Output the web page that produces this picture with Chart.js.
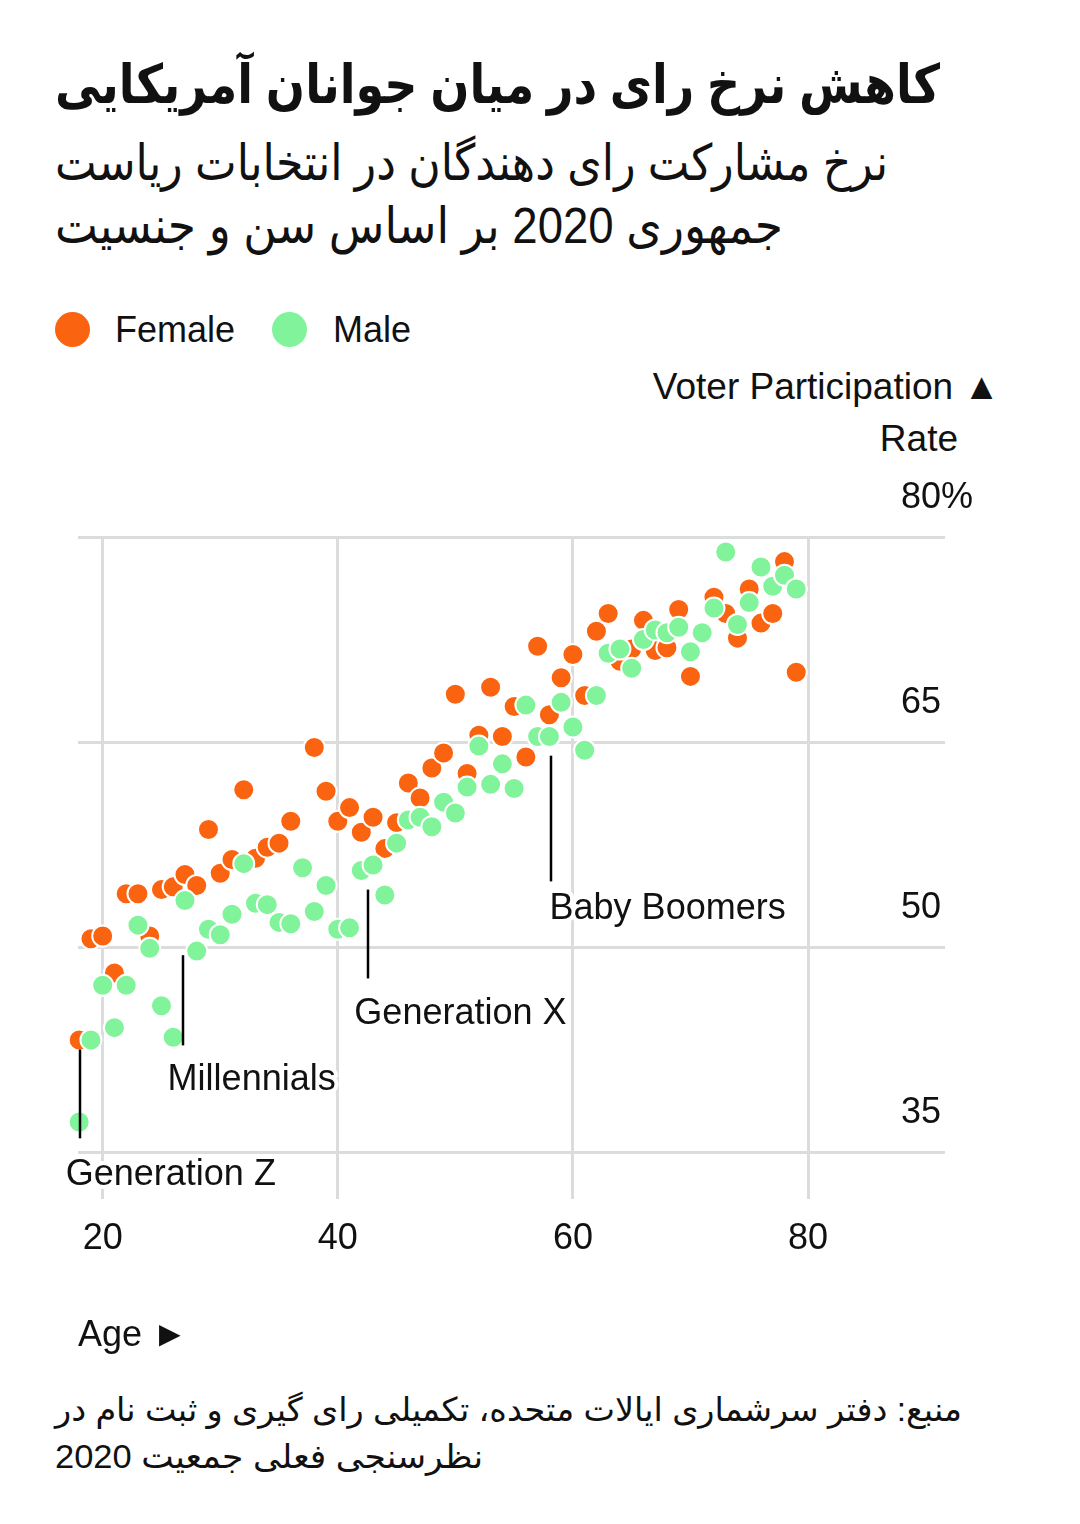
<!DOCTYPE html>
<html><head><meta charset="utf-8">
<script src="https://cdn.jsdelivr.net/npm/chart.js@4.4.1/dist/chart.umd.min.js"></script>
<style>
html,body{margin:0;padding:0;background:#fff;width:1080px;height:1524px;overflow:hidden}
body{position:relative;font-family:"Liberation Sans",Arial,"DejaVu Sans",sans-serif;color:#111}
.abs{position:absolute;white-space:nowrap;line-height:1}
.fa{direction:rtl;font-family:"Liberation Sans","DejaVu Sans",sans-serif;display:inline-block;transform-origin:0 50%}
.lat{font-size:36px}
.dot{position:absolute;width:35px;height:35px;border-radius:50%}
#chart{position:absolute;left:0;top:460px}
</style></head><body>
<div id="t0" class="abs fa" style="left:55px;top:57px;font-size:54px;font-weight:bold">کاهش نرخ رای در میان جوانان آمریکایی</div>
<div id="t1" class="abs fa" style="left:55px;top:138px;font-size:50px">نرخ مشارکت رای دهندگان در انتخابات ریاست</div>
<div id="t2" class="abs fa" style="left:55px;top:201px;font-size:50px">جمهوری 2020 بر اساس سن و جنسیت</div>

<div class="dot" id="dotF" style="left:55px;top:312px"></div>
<div class="abs lat" style="left:115px;top:312px">Female</div>
<div class="dot" id="dotM" style="left:272px;top:312px"></div>
<div class="abs lat" style="left:333px;top:312px">Male</div>

<div class="abs" style="right:80px;top:368px;font-size:37px">Voter Participation ▲</div>
<div class="abs" style="right:122px;top:420px;font-size:37px">Rate</div>

<canvas id="chart" width="1080" height="910"></canvas>

<div id="s1" class="abs fa" style="left:55px;top:1393px;font-size:33px">منبع: دفتر سرشماری ایالات متحده، تکمیلی رای گیری و ثبت نام در</div>
<div id="s2" class="abs fa" style="left:55px;top:1440px;font-size:33px">نظرسنجی فعلی جمعیت 2020</div>

<script>
// ---- data ----
const ages = [18,19,20,21,22,23,24,25,26,27,28,29,30,31,32,33,34,35,36,37,38,39,40,41,42,43,44,45,46,47,48,49,50,51,52,53,54,55,56,57,58,59,60,61,62,63,64,65,66,67,68,69,70,71,72,73,74,75,76,77,78,79];
const femaleRates = [43.2,50.6,50.8,48.1,53.9,53.9,50.8,54.2,54.4,55.3,54.5,58.6,55.4,56.4,61.5,56.5,57.3,57.6,59.2,55.9,64.6,61.4,59.2,60.2,58.4,59.5,57.2,59.1,62.0,60.9,63.1,64.2,68.5,62.7,65.5,69.0,65.4,67.6,63.9,72.0,67.0,69.7,71.4,68.4,73.1,74.4,70.9,71.8,73.9,71.7,71.9,74.7,69.8,73.1,75.6,74.4,72.6,76.2,73.7,74.4,78.2,70.1];
const maleRates = [37.2,43.2,47.2,44.1,47.2,51.6,49.9,45.7,43.4,53.4,49.7,51.3,50.9,52.4,56.1,53.2,53.1,51.8,51.7,55.8,52.6,54.5,51.3,51.4,55.6,56.0,53.8,57.6,59.3,59.5,58.8,60.6,59.8,61.7,64.7,61.9,63.4,61.6,67.7,65.4,65.4,67.9,66.1,64.4,68.4,71.5,71.8,70.4,72.5,73.2,73.0,73.4,71.6,73.0,74.8,78.9,73.6,75.2,77.8,76.4,77.2,76.2];
const xTickValues = [20,40,60,80];
const xTickLabels = ['20','40','60','80'];
const yTickValues = [35,50,65,80];
const yTickLabels = ['35','50','65','80%'];
const genNames = ['Generation Z','Millennials','Generation X','Baby Boomers'];
const genAges = [18.05,26.8,42.6,58.1];
const genTop = [42.5,49.4,54.2,64.0];
const genBottom = [36.0,42.8,47.7,54.8];

// ---- styles ----
const ORANGE = '#fa630f';
const GREEN = '#80f39b';
const GRID = '#dcdcdc';
const FONT = '"Liberation Sans", Arial, sans-serif';
const genLabelDx = [-14,-15,-14,-1];
const genLabelDy = [37,35,36,28];

document.getElementById('dotF').style.background = ORANGE;
document.getElementById('dotM').style.background = GREEN;

function fit(id, w){
  const el = document.getElementById(id);
  const r = el.getBoundingClientRect().width;
  el.style.transform = 'scaleX(' + (w / r) + ')';
}
fit('t0', 885); fit('t1', 833); fit('t2', 728); fit('s1', 907); fit('s2', 428);

const genPlugin = {
  id: 'generations',
  afterDatasetsDraw(chart){
    const {ctx, scales:{x, y}} = chart;
    ctx.save();
    ctx.strokeStyle = '#000'; ctx.lineWidth = 2.5;
    genNames.forEach((n, i) => {
      const px = Math.round(x.getPixelForValue(genAges[i]));
      ctx.beginPath();
      ctx.moveTo(px, y.getPixelForValue(genTop[i]));
      ctx.lineTo(px, y.getPixelForValue(genBottom[i]));
      ctx.stroke();
    });
    ctx.font = '36px ' + FONT;
    ctx.textAlign = 'left'; ctx.textBaseline = 'middle'; ctx.lineJoin = 'round';
    genNames.forEach((n, i) => {
      const tx = x.getPixelForValue(genAges[i]) + genLabelDx[i];
      const ty = y.getPixelForValue(genBottom[i]) + genLabelDy[i];
      ctx.strokeStyle = '#fff'; ctx.lineWidth = 8; ctx.strokeText(n, tx, ty);
      ctx.fillStyle = '#111'; ctx.fillText(n, tx, ty);
    });
    ctx.restore();
  }
};

const toPts = ys => ages.map((a, i) => ({x: a, y: ys[i]}));
const pointStyle = c => ({pointRadius: 10.5, pointHoverRadius: 10.5, pointBackgroundColor: c, backgroundColor: c, pointBorderColor: '#fff', borderColor: '#fff', pointBorderWidth: 2, clip: false});

new Chart(document.getElementById('chart'), {
  type: 'scatter',
  data: {datasets: [
    Object.assign({label: 'Male', data: toPts(maleRates)}, pointStyle(GREEN)),
    Object.assign({label: 'Female', data: toPts(femaleRates)}, pointStyle(ORANGE))
  ]},
  options: {
    responsive: false, animation: false, devicePixelRatio: 1,
    layout: {padding: {left: 78, top: 77, right: 75, bottom: 12}},
    plugins: {legend: {display: false}, tooltip: {enabled: false}},
    scales: {
      x: {
        type: 'linear', position: 'bottom', min: 17.9, max: 86.55,
        afterBuildTicks: s => { s.ticks = xTickValues.map(v => ({value: v})); },
        afterFit: s => { s.height = 206; },
        grid: {color: GRID, lineWidth: 3, tickLength: 47, drawTicks: true},
        border: {display: false},
        ticks: {autoSkip: false, maxRotation: 0, padding: 18, color: '#111', font: {size: 36, family: FONT},
          callback: (v, i) => xTickLabels[i]},
        title: {display: true, text: 'Age ►', align: 'start', color: '#111', font: {size: 36, family: FONT}, padding: 0}
      },
      y: {
        type: 'linear', position: 'right', min: 35, max: 80,
        afterBuildTicks: s => { s.ticks = yTickValues.map(v => ({value: v})); },
        afterFit: s => { s.width = 120; },
        grid: {color: GRID, lineWidth: 3, tickLength: 60, drawTicks: true},
        border: {display: false},
        ticks: {autoSkip: false, padding: -44, crossAlign: 'near', labelOffset: -39, color: '#111', font: {size: 36, family: FONT},
          callback: (v, i) => yTickLabels[i]}
      }
    }
  },
  plugins: [genPlugin]
});
</script>
</body></html>
